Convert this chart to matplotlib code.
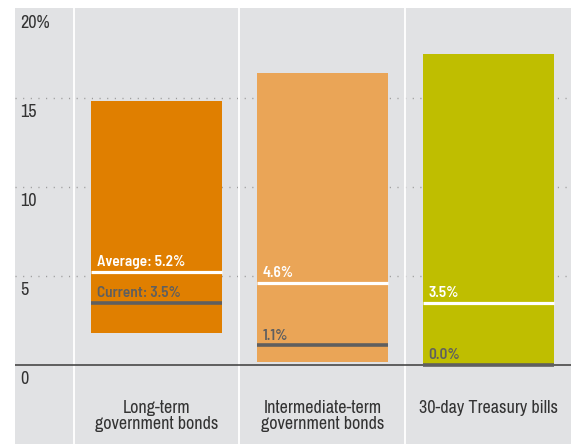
import numpy as np
import matplotlib
matplotlib.use('Agg')
import matplotlib.pyplot as plt

plt.rcParams['font.family'] = ['Archivo Narrow', 'DejaVu Sans']
bold_font = ['Barlow Semi Condensed', 'Asap Condensed', 'DejaVu Sans']

# data
cats = ['Long-term\ngovernment bonds', 'Intermediate-term\ngovernment bonds', '30-day Treasury bills']
low = [1.8, 0.15, 0.0]     # bottom of range
high = [14.85, 16.4, 17.45]  # top of range
avg = [5.2, 4.6, 3.5]
cur = [3.5, 1.1, 0.0]
avg_lbl = ['Average: 5.2%', '4.6%', '3.5%']
cur_lbl = ['Current: 3.5%', '1.1%', '0.0%']
yticks = [0, 5, 10, 15, 20]
ytick_lbl = ['0', '5', '10', '15', '20%']
colors = ['#e07f00', '#eaa557', '#bfbe00']

bg = '#e1e2e4'
dark = '#5f5f5f'
w = 0.79

fig = plt.figure(figsize=(5.77, 4.44), dpi=100)
ax = fig.add_axes([15/577, 0, 556/577, 436/444])
ax.set_facecolor(bg)
for s in ax.spines.values():
    s.set_visible(False)
ax.set_xticks([])
ax.set_yticks([])
ax.set_xlim(-0.854, 2.5)
ax.set_ylim(-4.44, 20.06)

x = np.arange(len(cats))

# dotted grid
for v in yticks[1:-1]:
    ax.axhline(v, color='#9a9a9a', lw=1.0, ls=(0, (0.8, 4.7)), zorder=1)

# white column separators
for sx in [-0.5, 0.5, 1.5]:
    ax.axvline(sx, color='white', lw=1.3, zorder=1)

# range bars
ax.bar(x, np.array(high) - np.array(low), bottom=low, width=w, color=colors, zorder=2)

# zero line
ax.axhline(0, color='#3a3a3a', lw=1.1, zorder=2.5)

# average / current marks
ax.hlines(avg, x - w/2, x + w/2, color='white', lw=2.3, zorder=3)
ax.hlines(cur, x - w/2, x + w/2, color=dark, lw=2.6, zorder=3)

for i in range(len(cats)):
    ax.annotate(avg_lbl[i], (x[i] - w/2, avg[i]), xytext=(4.3, 4.3), textcoords='offset points',
                color='white', fontsize=11, fontweight=600, family=bold_font,
                va='baseline', ha='left', zorder=4)
    ax.annotate(cur_lbl[i], (x[i] - w/2, cur[i]), xytext=(4.3, 4.0), textcoords='offset points',
                color=dark, fontsize=11, fontweight=600, family=bold_font,
                va='baseline', ha='left', zorder=4)
    ax.text(x[i], -1.97, cats[i], ha='center', va='top', fontsize=13, color='#333333',
            linespacing=1.03)

# y labels sit just under their gridline
for v, t in zip(yticks, ytick_lbl):
    ax.text(-0.824, v - 0.8, t, ha='left', va='center', fontsize=13, color='#333333')

plt.savefig('out.png', dpi=100)
